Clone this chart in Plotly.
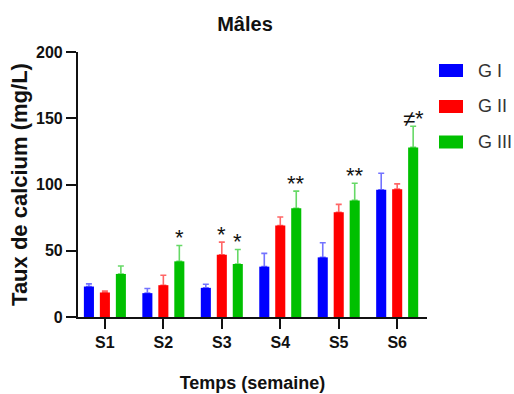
import plotly.graph_objects as go

weeks = ["S1", "S2", "S3", "S4", "S5", "S6"]
groups = ["G I", "G II", "G III"]
colors = ["#0000FF", "#FF0000", "#00C000"]
err_colors = ["rgba(0,0,255,0.55)", "rgba(255,0,0,0.6)", "rgba(0,192,0,0.6)"]

means_g1 = [23, 18, 22, 38, 45, 96]
means_g2 = [18.5, 24, 47, 69, 79, 96.5]
means_g3 = [32.5, 42, 40, 82, 88, 128]
sem_g1 = [2, 3.5, 2.7, 10, 11, 12.5]
sem_g2 = [1, 7.5, 9.5, 6.5, 6, 4]
sem_g3 = [6, 12, 11, 13, 13, 16]

# significance marks: (week index, group index, label)
sig_weeks = [1, 2, 2, 3, 4, 5]
sig_groups = [2, 1, 2, 2, 2, 2]
sig_labels = ["*", "*", "*", "**", "**", "≠*"]

means = [means_g1, means_g2, means_g3]
sems = [sem_g1, sem_g2, sem_g3]

BARGAP = 0.18
fig = go.Figure()
for i, g in enumerate(groups):
    fig.add_trace(go.Bar(
        x=weeks, y=means[i], name=g,
        marker=dict(color=colors[i], line=dict(width=0)),
        error_y=dict(type="data", array=sems[i], arrayminus=[0]*len(weeks),
                     symmetric=False, color=err_colors[i], thickness=1.6, width=3),
        showlegend=False,
    ))

slot = (1 - BARGAP) / 3
for wi, gi, lab in zip(sig_weeks, sig_groups, sig_labels):
    top = means[gi][wi] + sems[gi][wi]
    fig.add_annotation(x=wi + (gi - 1) * slot, y=top, xref="x", yref="y",
                       text=lab, showarrow=False, yanchor="bottom",
                       yshift=-7, font=dict(family="Liberation Sans, Arial", size=22, color="#111"))

# manual legend
L, R, T, B = 78, 427, 52, 317
def px(xp): return (xp - L) / (R - L)
def py(yp): return (B - yp) / (B - T)
leg_y = [70.5, 106.5, 142]
for i, g in enumerate(groups):
    fig.add_shape(type="rect", xref="paper", yref="paper",
                  x0=px(439), x1=px(463), y0=py(leg_y[i] + 6.5), y1=py(leg_y[i] - 6.5),
                  fillcolor=colors[i], line=dict(width=0))
    fig.add_annotation(xref="paper", yref="paper", x=px(476), y=py(leg_y[i]),
                       text=g, showarrow=False, xanchor="left", yanchor="middle",
                       font=dict(family="Liberation Sans, Arial", size=18, color="#333"))

fig.update_layout(
    width=514, height=394,
    margin=dict(l=L, r=514 - R, t=T, b=394 - B, autoexpand=False),
    paper_bgcolor="white", plot_bgcolor="white",
    barmode="group", bargap=BARGAP, bargroupgap=0.37,
    font=dict(family="Liberation Sans, Arial", color="#111"),
    title=dict(text="<b>Mâles</b>", x=245 / 514, xref="container", xanchor="center",
               y=1 - 24 / 394, yanchor="middle", font=dict(size=20, color="#111")),
)
fig.update_xaxes(
    range=[-0.46, 5.51], showline=True, linecolor="#111", linewidth=2.2,
    ticks="outside", ticklen=10, tickwidth=2.2, tickcolor="#111",
    tickfont=dict(size=16, color="#111", weight="bold"), automargin=False,
    title=dict(text="<b>Temps (semaine)</b>", font=dict(size=18), standoff=26),
    showgrid=False, zeroline=False,
)
fig.update_yaxes(
    range=[0, 200], tickvals=[0, 50, 100, 150, 200], showline=True,
    linecolor="#111", linewidth=2.2, ticks="outside", ticklen=10, tickwidth=2.2,
    tickcolor="#111", tickfont=dict(size=16, color="#111", weight="bold"), automargin=False,
    title=dict(text="<b>Taux de calcium (mg/L)</b>", font=dict(size=22), standoff=2),
    showgrid=False, zeroline=False,
)
fig.write_html("out.html", config={"displayModeBar": False},
               post_script="document.body.style.margin='0';")
